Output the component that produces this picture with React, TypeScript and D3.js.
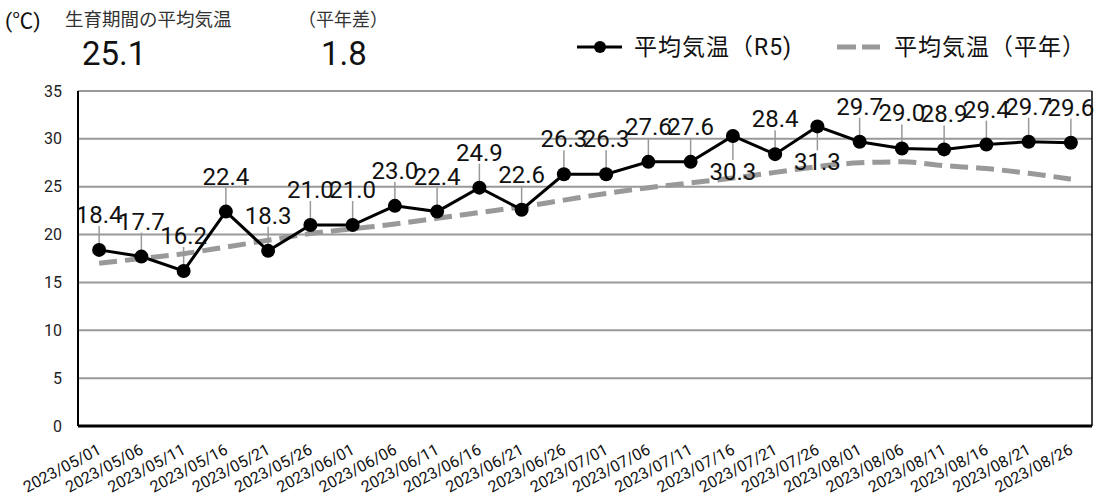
import { useEffect, useRef } from "react";
import * as d3 from "d3";

const dates = [
  "2023/05/01", "2023/05/06", "2023/05/11", "2023/05/16", "2023/05/21", "2023/05/26",
  "2023/06/01", "2023/06/06", "2023/06/11", "2023/06/16", "2023/06/21", "2023/06/26",
  "2023/07/01", "2023/07/06", "2023/07/11", "2023/07/16", "2023/07/21", "2023/07/26",
  "2023/08/01", "2023/08/06", "2023/08/11", "2023/08/16", "2023/08/21", "2023/08/26"
];
const tempR5 = [
  18.4, 17.7, 16.2, 22.4, 18.3, 21.0, 21.0, 23.0, 22.4, 24.9, 22.6, 26.3,
  26.3, 27.6, 27.6, 30.3, 28.4, 31.3, 29.7, 29.0, 28.9, 29.4, 29.7, 29.6
];
const tempNormal = [
  17.0, 17.5, 18.0, 18.7, 19.4, 20.1, 20.6, 21.1, 21.7, 22.3, 22.9, 23.6,
  24.3, 24.9, 25.4, 25.9, 26.5, 27.1, 27.5, 27.6, 27.2, 26.9, 26.4, 25.8
];
// labels drawn under the point instead of above
const labelBelow = ["2023/07/16", "2023/07/26"];
const yTicks = [0, 5, 10, 15, 20, 25, 30, 35];

const FONT = "Roboto, 'Noto Sans CJK JP', sans-serif";

export default function App() {
  const ref = useRef<SVGSVGElement>(null);

  useEffect(() => {
    const svg = d3.select(ref.current);
    svg.selectAll("*").remove();

    const width = 1098;
    const height = 496;
    const margin = { top: 91, right: 6, bottom: 70, left: 78 };
    const innerWidth = width - margin.left - margin.right;
    const innerHeight = height - margin.top - margin.bottom;

    svg.attr("width", width).attr("height", height).style("font-family", FONT);

    const x = d3.scaleBand().domain(dates).range([0, innerWidth]);
    const y = d3.scaleLinear().domain([0, 35]).range([innerHeight, 0]);
    const cx = (d: string) => (x(d) ?? 0) + x.bandwidth() / 2;

    const chart = svg
      .append("g")
      .attr("transform", `translate(${margin.left},${margin.top})`);

    // grid
    chart.selectAll(".grid")
      .data(yTicks.filter(t => t > 0))
      .join("line")
      .attr("x1", 0)
      .attr("x2", innerWidth)
      .attr("y1", d => y(d))
      .attr("y2", d => y(d))
      .attr("stroke", "#999")
      .attr("stroke-width", 2);

    // right border + axes
    chart.append("line")
      .attr("x1", innerWidth).attr("x2", innerWidth)
      .attr("y1", 0).attr("y2", innerHeight)
      .attr("stroke", "#000").attr("stroke-width", 1.5);
    chart.append("line")
      .attr("x1", 0).attr("x2", 0)
      .attr("y1", 0).attr("y2", innerHeight)
      .attr("stroke", "#000").attr("stroke-width", 2);
    chart.append("line")
      .attr("x1", 0).attr("x2", innerWidth)
      .attr("y1", innerHeight).attr("y2", innerHeight)
      .attr("stroke", "#000").attr("stroke-width", 3);

    // y tick labels
    chart.selectAll(".ylab")
      .data(yTicks)
      .join("text")
      .attr("x", -16)
      .attr("y", d => y(d))
      .attr("dy", "0.35em")
      .attr("text-anchor", "end")
      .attr("font-size", 16)
      .attr("fill", "#222")
      .text(d => d);

    // x tick labels
    chart.selectAll(".xlab")
      .data(dates)
      .join("text")
      .attr("transform", d => `translate(${cx(d) + 3},${innerHeight + 27}) rotate(-28)`)
      .attr("text-anchor", "end")
      .attr("font-size", 16)
      .attr("fill", "#111")
      .text(d => d);

    // normal line (dashed, smoothed)
    const normalLine = d3.line<number>()
      .x((_, i) => cx(dates[i]))
      .y(d => y(d))
      .curve(d3.curveMonotoneX);
    chart.append("path")
      .datum(tempNormal)
      .attr("d", normalLine)
      .attr("fill", "none")
      .attr("stroke", "#999")
      .attr("stroke-width", 5)
      .attr("stroke-dasharray", "18,8");

    // R5 line
    const r5Line = d3.line<number>()
      .x((_, i) => cx(dates[i]))
      .y(d => y(d));
    chart.append("path")
      .datum(tempR5)
      .attr("d", r5Line)
      .attr("fill", "none")
      .attr("stroke", "#000")
      .attr("stroke-width", 3);

    // leader lines + labels
    tempR5.forEach((v, i) => {
      const d = dates[i];
      const below = labelBelow.includes(d);
      const py = y(v);
      chart.append("line")
        .attr("x1", cx(d)).attr("x2", cx(d))
        .attr("y1", py)
        .attr("y2", below ? py + 24 : py - 24)
        .attr("stroke", "#999")
        .attr("stroke-width", 1.5);
      chart.append("text")
        .attr("x", cx(d))
        .attr("y", below ? py + 44 : py - 27)
        .attr("text-anchor", "middle")
        .attr("font-size", 24)
        .attr("fill", "#111")
        .text(v.toFixed(1));
    });

    chart.selectAll(".pt")
      .data(tempR5)
      .join("circle")
      .attr("cx", (_, i) => cx(dates[i]))
      .attr("cy", d => y(d))
      .attr("r", 7)
      .attr("fill", "#000");

    // header
    svg.append("text").attr("x", 5).attr("y", 28)
      .attr("font-size", 21).attr("fill", "#111").text("(℃)");
    svg.append("text").attr("x", 65).attr("y", 26)
      .attr("font-size", 18.5).attr("fill", "#333").text("生育期間の平均気温");
    svg.append("text").attr("x", 82).attr("y", 65)
      .attr("font-size", 33).attr("fill", "#111").text("25.1");
    svg.append("text").attr("x", 298).attr("y", 26)
      .attr("font-size", 18).attr("fill", "#333").text("（平年差）");
    svg.append("text").attr("x", 321).attr("y", 65)
      .attr("font-size", 33).attr("fill", "#111").text("1.8");

    // legend
    const lg = svg.append("g");
    lg.append("line").attr("x1", 577).attr("x2", 622).attr("y1", 47).attr("y2", 47)
      .attr("stroke", "#000").attr("stroke-width", 3);
    lg.append("circle").attr("cx", 600).attr("cy", 47).attr("r", 6).attr("fill", "#000");
    lg.append("text").attr("x", 634).attr("y", 55)
      .attr("font-size", 23).attr("letter-spacing", 1).attr("fill", "#111").text("平均気温（R5)");
    lg.append("line").attr("x1", 837).attr("x2", 880).attr("y1", 47).attr("y2", 47)
      .attr("stroke", "#999").attr("stroke-width", 5).attr("stroke-dasharray", "19,6");
    lg.append("text").attr("x", 894).attr("y", 55)
      .attr("font-size", 23).attr("letter-spacing", 1).attr("fill", "#111").text("平均気温（平年）");
  }, []);

  return <svg ref={ref} style={{ position: "absolute", left: 0, top: 0 }}></svg>;
}
